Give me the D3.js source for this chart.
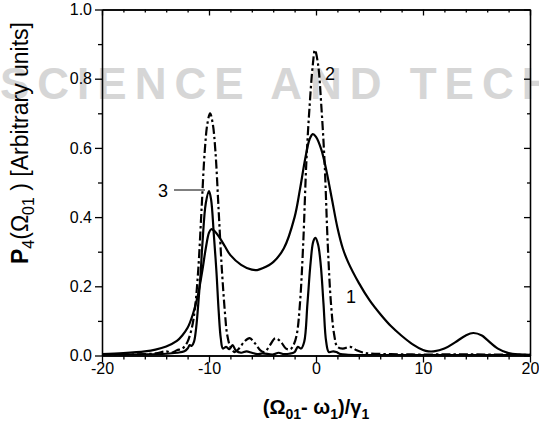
<!DOCTYPE html>
<html>
  <head>
    <style>
      body { margin: 0; background: #fff; }
      svg text { font-family: "Liberation Sans", Arial, sans-serif; fill: #000; }
      .axis path, .axis line { stroke: #000; stroke-width: 1.3; }
      .axis text { font-size: 16px; }
      .curve { fill: none; stroke: #000; stroke-width: 2.2; stroke-linejoin: round; }
    </style>
  </head>
  <body>
    <svg id="chart" width="539" height="432"></svg>

    <script src="https://d3js.org/d3.v7.min.js"></script>
    <script type="text/javascript">
      // ticks
      const xTicks = [-20, -10, 0, 10, 20];
      const xMinor = [-18, -16, -14, -12, -8, -6, -4, -2, 2, 4, 6, 8, 12, 14, 16, 18];
      const yTicks = [0, 0.2, 0.4, 0.6, 0.8, 1.0];
      const yMinor = [0.1, 0.3, 0.5, 0.7, 0.9];

      // curve 1 (solid, broad)
      const c1x = [-20, -18, -16, -15, -14, -13, -12.5, -12, -11.5, -11, -10.6, -10.3, -10, -9.8, -9.5, -9, -8.5, -8, -7, -6, -5.5, -5, -4, -3, -2, -1.5, -1, -0.6, -0.3, 0, 0.5, 1, 1.5, 2, 2.5, 3, 4, 5, 6, 7, 8, 9, 10, 10.5, 11, 12, 13, 14, 14.7, 15.5, 16, 17, 18, 19, 20];
      const c1y = [0.004, 0.007, 0.012, 0.017, 0.026, 0.042, 0.058, 0.08, 0.12, 0.18, 0.25, 0.31, 0.355, 0.365, 0.36, 0.34, 0.315, 0.29, 0.262, 0.248, 0.247, 0.252, 0.27, 0.31, 0.40, 0.48, 0.57, 0.625, 0.64, 0.632, 0.595, 0.53, 0.45, 0.37, 0.31, 0.27, 0.21, 0.16, 0.12, 0.085, 0.057, 0.033, 0.016, 0.012, 0.012, 0.02, 0.038, 0.058, 0.065, 0.058, 0.045, 0.02, 0.007, 0.003, 0.002];

      // curve 2 (dash-dot)
      const c2x = [-20, -17, -15, -14, -13.5, -13, -12.5, -12.2, -12, -11.6, -11.3, -11, -10.7, -10.4, -10.15, -9.9, -9.65, -9.4, -9.1, -8.8, -8.5, -8.3, -8, -7.6, -7.2, -6.7, -6.2, -5.7, -5.2, -4.8, -4.3, -3.8, -3.3, -2.8, -2.4, -2.1, -1.8, -1.5, -1.2, -0.9, -0.6, -0.3, -0.1, 0.2, 0.5, 0.8, 1.1, 1.4, 1.7, 2.0, 2.5, 3.2, 3.8, 4.5, 5.5, 7, 9, 12, 15, 20];
      const c2y = [0.002, 0.003, 0.006, 0.012, 0.008, 0.015, 0.02, 0.03, 0.04, 0.08, 0.14, 0.25, 0.42, 0.59, 0.67, 0.70, 0.67, 0.59, 0.42, 0.25, 0.12, 0.06, 0.025, 0.01, 0.02, 0.04, 0.05, 0.035, 0.015, 0.01, 0.03, 0.05, 0.04, 0.02, 0.018, 0.03, 0.06, 0.15, 0.32, 0.56, 0.72, 0.84, 0.883, 0.84, 0.72, 0.56, 0.32, 0.15, 0.06, 0.025, 0.02, 0.025, 0.015, 0.008, 0.005, 0.004, 0.003, 0.003, 0.003, 0.002];

      // curve 3 (solid, narrow)
      const c3x = [-20, -16, -14, -13, -12.3, -12, -11.8, -11.6, -11.4, -11.2, -11, -10.8, -10.6, -10.3, -10, -9.8, -9.55, -9.3, -9.1, -8.9, -8.7, -8.4, -8.1, -7.8, -7.5, -7, -6.5, -6, -5.5, -5, -4, -3.5, -3, -2.5, -2, -1.7, -1.4, -1.1, -0.8, -0.5, -0.25, -0.05, 0.2, 0.45, 0.7, 0.95, 1.2, 1.6, 1.9, 2.3, 3, 5, 10, 15, 20];
      const c3y = [0.002, 0.003, 0.005, 0.008, 0.012, 0.02, 0.03, 0.028, 0.04, 0.08, 0.15, 0.23, 0.33, 0.44, 0.475, 0.45, 0.35, 0.24, 0.13, 0.05, 0.02, 0.025, 0.018, 0.03, 0.015, 0.008, 0.012, 0.008, 0.004, 0.006, 0.003, 0.008, 0.004, 0.005, 0.01, 0.025, 0.02, 0.04, 0.15, 0.27, 0.33, 0.34, 0.32, 0.26, 0.15, 0.04, 0.01, 0.012, 0.01, 0.004, 0.002, 0.001, 0.001, 0.001, 0.001];

      (function() {
        const svg = d3.select('#chart');
        const pl = 102, pr = 530, pt = 9.5, pb = 355.5;

        const x = d3.scaleLinear().domain([-20, 20]).range([pl, pr]);
        const y = d3.scaleLinear().domain([0, 1]).range([pb, pt]);

        // faint watermark behind the plot
        svg.append('text')
          .attr('x', 0).attr('y', 99)
          .style('font-size', '44px').style('font-weight', 'bold')
          .style('letter-spacing', '8px')
          .style('fill', '#d6d6d6')
          .text('SCIENCE AND TECHNOLOGY');

        svg.append('clipPath').attr('id', 'plot')
          .append('rect').attr('x', pl).attr('y', pt)
          .attr('width', pr - pl).attr('height', pb - pt);

        const line = d3.line()
          .x(function(d) { return x(d[0]); })
          .y(function(d) { return y(d[1]); })
          .curve(d3.curveCatmullRom.alpha(0.5));

        const g = svg.append('g').attr('clip-path', 'url(#plot)');
        g.append('path').attr('class', 'curve').attr('d', line(d3.zip(c1x, c1y)));
        g.append('path').attr('class', 'curve').attr('d', line(d3.zip(c3x, c3y)));
        g.append('path').attr('class', 'curve')
          .attr('stroke-dasharray', '9,3,2.5,3')
          .attr('d', line(d3.zip(c2x, c2y)));

        // axes: major + minor, outward on bottom/left, inward on top/right
        function addAxis(axis, tr) {
          svg.append('g').attr('class', 'axis').attr('transform', tr).call(axis);
        }
        const hyphen = function(d) { return String(d); };
        addAxis(d3.axisBottom(x).tickValues(xTicks).tickSize(7).tickSizeOuter(0).tickPadding(0).tickFormat(hyphen), 'translate(0,' + pb + ')');
        addAxis(d3.axisBottom(x).tickValues(xMinor).tickSize(4).tickSizeOuter(0).tickFormat(''), 'translate(0,' + pb + ')');
        addAxis(d3.axisBottom(x).tickValues(xTicks).tickSize(6).tickSizeOuter(0).tickFormat(''), 'translate(0,' + pt + ')');
        addAxis(d3.axisBottom(x).tickValues(xMinor).tickSize(3).tickSizeOuter(0).tickFormat(''), 'translate(0,' + pt + ')');
        addAxis(d3.axisLeft(y).tickValues(yTicks).tickSize(7).tickSizeOuter(0).tickPadding(3).tickFormat(d3.format('.1f')), 'translate(' + pl + ',0)');
        addAxis(d3.axisLeft(y).tickValues(yMinor).tickSize(4).tickSizeOuter(0).tickFormat(''), 'translate(' + pl + ',0)');
        addAxis(d3.axisLeft(y).tickValues(yTicks).tickSize(6).tickSizeOuter(0).tickFormat(''), 'translate(' + pr + ',0)');
        addAxis(d3.axisLeft(y).tickValues(yMinor).tickSize(3).tickSizeOuter(0).tickFormat(''), 'translate(' + pr + ',0)');

        // curve labels
        svg.append('text').attr('x', 346).attr('y', 303).style('font-size', '18px').text('1');
        svg.append('text').attr('x', 325).attr('y', 80).style('font-size', '18px').text('2');
        svg.append('text').attr('x', 158).attr('y', 197).style('font-size', '18px').text('3');
        svg.append('line').attr('x1', 174).attr('y1', 190).attr('x2', 205).attr('y2', 190)
          .attr('stroke', '#000').attr('stroke-width', 1);

        // x axis title
        const xt = svg.append('text')
          .attr('x', (pl + pr) / 2).attr('y', 414)
          .attr('text-anchor', 'middle')
          .style('font-size', '20px').style('font-weight', 'bold');
        xt.append('tspan').text('(Ω');
        xt.append('tspan').attr('dy', 5).style('font-size', '14px').text('01');
        xt.append('tspan').attr('dy', -5).text('- ω');
        xt.append('tspan').attr('dy', 5).style('font-size', '14px').text('1');
        xt.append('tspan').attr('dy', -5).text(')/γ');
        xt.append('tspan').attr('dy', 5).style('font-size', '14px').text('1');

        // y axis title
        const yt = svg.append('text')
          .attr('transform', 'translate(28,143) rotate(-90)')
          .attr('text-anchor', 'middle')
          .style('font-size', '23px');
        yt.append('tspan').style('font-weight', 'bold').text('P');
        yt.append('tspan').attr('dy', 6).style('font-size', '16px').text('4');
        yt.append('tspan').attr('dy', -6).text('(Ω');
        yt.append('tspan').attr('dy', 6).style('font-size', '16px').text('01');
        yt.append('tspan').attr('dy', -6).text(' ) [Arbitrary units]');
      })()
    </script>
  </body>
</html>
